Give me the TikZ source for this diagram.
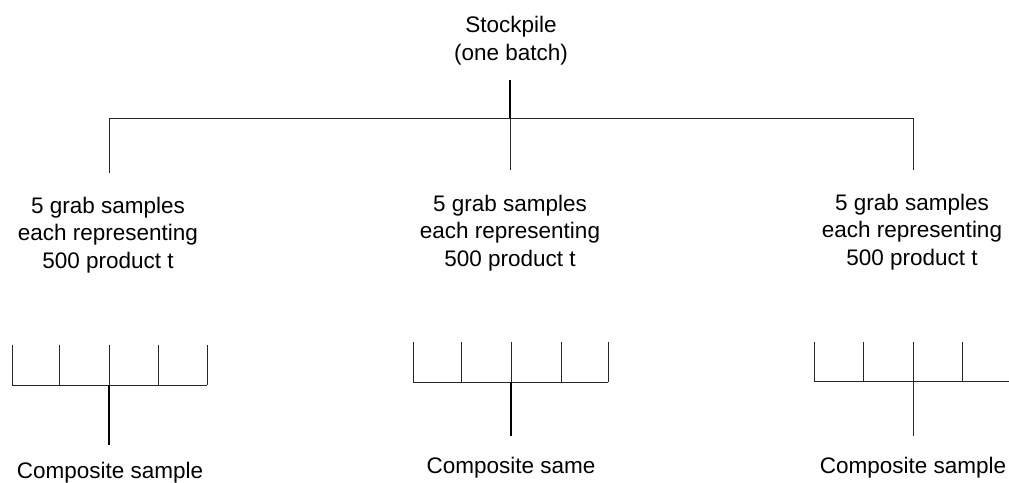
\documentclass[tikz,border=0pt]{standalone}
\usepackage{fontspec}
\setmainfont{Liberation Sans}
\begin{document}
\begin{tikzpicture}[x=1pt,y=-1pt,
  lbl/.style={inner sep=0pt,align=center,font=\fontsize{22.5}{27.5}\selectfont},
  ln/.style={line width=1pt,black!85},
  stem/.style={line width=1.5pt,black}]
\useasboundingbox (0,0) rectangle (1009,482);
% texts (anchor base = baseline of the last line)
\node[lbl,anchor=base] (stock) at (511,60) {Stockpile\\(one batch)};
\node[lbl,anchor=base] (g1) at (108,268) {5 grab samples\\each representing\\500 product t};
\node[lbl,anchor=base] (g2) at (510,266) {5 grab samples\\each representing\\500 product t};
\node[lbl,anchor=base] (g3) at (912,265) {5 grab samples\\each representing\\500 product t};
\node[lbl,anchor=base] (c1) at (110,478) {Composite sample};
\node[lbl,anchor=base] (c2) at (511,473) {Composite same};
\node[lbl,anchor=base] (c3) at (913,473) {Composite sample};
% tree coordinates
\coordinate (s0) at (510,80);
\coordinate (sj) at (510,118);
\coordinate (lj) at (109,118);
\coordinate (rj) at (913,118);
\coordinate (l1) at (109,173);
\coordinate (m1) at (510,170);
\coordinate (r1) at (913,170);
\draw[stem] (s0) -- (sj);
\draw[ln] (lj) -- (rj);
\draw[ln] (lj) -- (l1);
\draw[ln] (sj) -- (m1);
\draw[ln] (rj) -- (r1);
% left comb
\foreach \x/\n in {12/a,59/b,109/c,158/d,207/e}{
  \coordinate (L\n) at (\x,345);
  \coordinate (LB\n) at (\x,385);
  \draw[ln] (L\n) -- (LB\n);
}
\draw[ln] (LBa) -- (LBe);
\coordinate (Ls) at (109,445);
\draw[stem] (LBc) -- (Ls);
% middle comb
\foreach \x/\n in {413/a,461/b,511/c,561/d,608/e}{
  \coordinate (M\n) at (\x,342);
  \coordinate (MB\n) at (\x,382);
  \draw[ln] (M\n) -- (MB\n);
}
\draw[ln] (MBa) -- (MBe);
\coordinate (Ms) at (511,436);
\draw[stem] (MBc) -- (Ms);
% right comb
\foreach \x/\n in {814/a,863/b,913/c,962/d}{
  \coordinate (R\n) at (\x,342);
  \coordinate (RB\n) at (\x,381);
  \draw[ln] (R\n) -- (RB\n);
}
\coordinate (RBe) at (1009,381);
\draw[ln] (RBa) -- (RBe);
\coordinate (Rs) at (913,436);
\draw[ln] (RBc) -- (Rs);
\end{tikzpicture}
\end{document}
